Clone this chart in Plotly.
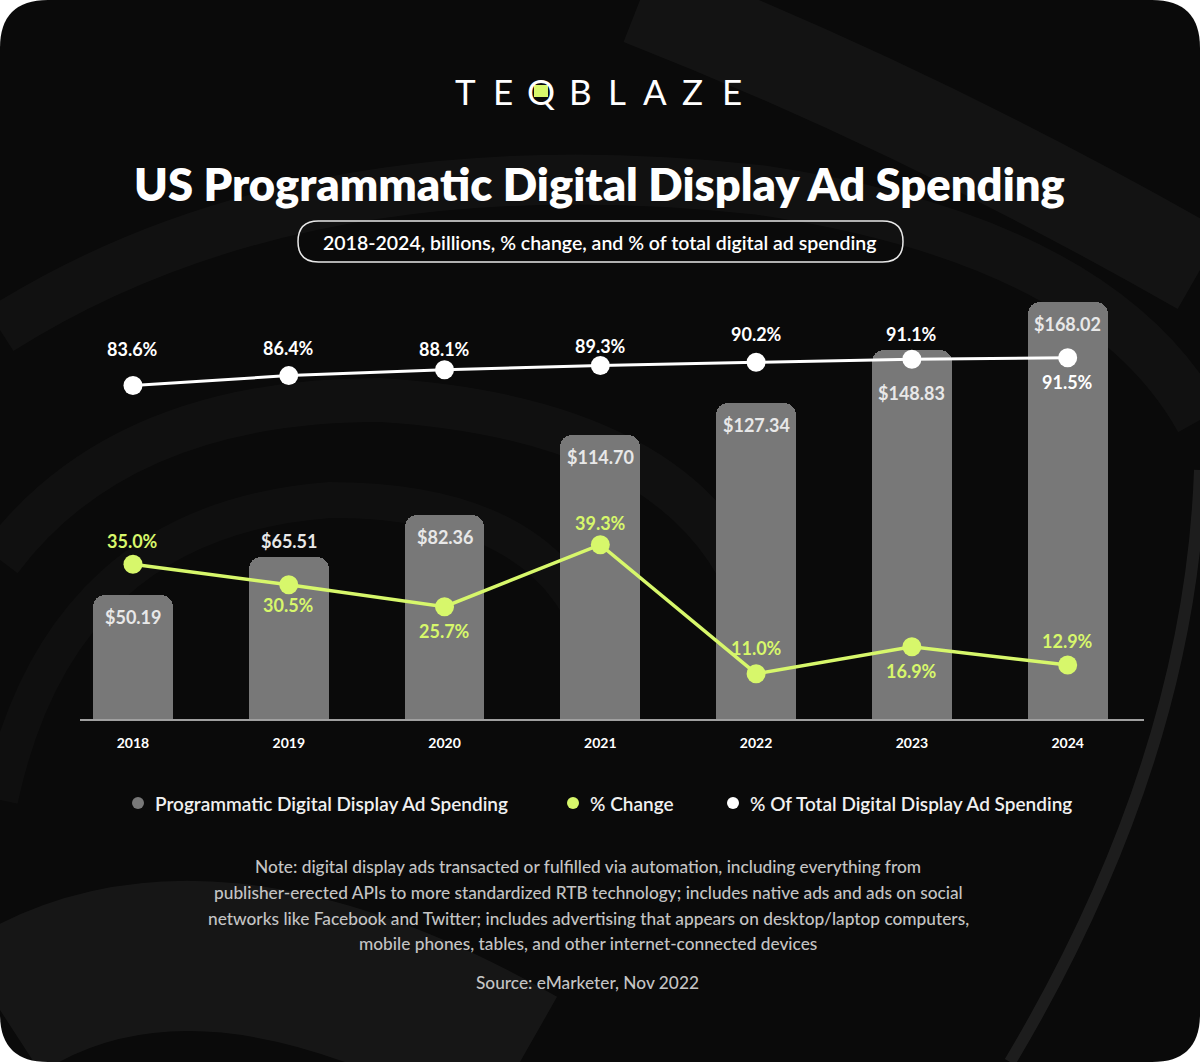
import plotly.graph_objects as go

# ---------------- data ----------------
years = ["2018", "2019", "2020", "2021", "2022", "2023", "2024"]
spending = [50.19, 65.51, 82.36, 114.70, 127.34, 148.83, 168.02]
pct_change = [35.0, 30.5, 25.7, 39.3, 11.0, 16.9, 12.9]
pct_total = [83.6, 86.4, 88.1, 89.3, 90.2, 91.1, 91.5]

spend_labels = ["$%.2f" % v for v in spending]
change_labels = ["%.1f%%" % v for v in pct_change]
total_labels = ["%.1f%%" % v for v in pct_total]

# label offsets (px, up positive) - style only
spend_off = [-22, 16, -22, -22, -22, -43, -22]
change_off = [23, -20, -24, 22, 26, -24, 24]
total_off = [36, 28, 21, 19, 28, 25, -24]

# ---------------- style ----------------
W, H = 1200, 1062
ML, MR, MT, MB = 80, 56, 290, 343
PW, PH = W - ML - MR, H - MT - MB
FONT = "Lato"
LIME = "#d7f76b"
BAR = "#787878"
BG = "#0a0a0a"


def px(x):
    return (x - ML) / PW


def py(y):
    return (H - MB - y) / PH


idx = list(range(len(years)))

fig = go.Figure()

fig.add_trace(go.Bar(
    x=idx, y=spending, width=0.513, yaxis="y",
    marker=dict(color=BAR, cornerradius=12, line=dict(width=0)),
    hoverinfo="skip", showlegend=False,
))
fig.add_trace(go.Scatter(
    x=idx, y=pct_total, yaxis="y2", mode="lines+markers",
    line=dict(color="white", width=3),
    marker=dict(color="white", size=19),
    hoverinfo="skip", showlegend=False,
))
fig.add_trace(go.Scatter(
    x=idx, y=pct_change, yaxis="y3", mode="lines+markers",
    line=dict(color=LIME, width=3.5),
    marker=dict(color=LIME, size=19),
    hoverinfo="skip", showlegend=False,
))

annotations = []


def ann(text, x, y, size, color, weight=400, xanchor="center", xref="paper", yref="paper", yshift=0):
    annotations.append(dict(
        text=text, x=x, y=y, xref=xref, yref=yref, showarrow=False,
        xanchor=xanchor, yanchor="middle", yshift=yshift,
        font=dict(family=FONT, size=size, color=color, weight=weight),
    ))


for i in idx:
    ann(spend_labels[i], i, spending[i], 18, "#e8e8e8", 700, xref="x", yref="y", yshift=spend_off[i])
    ann(change_labels[i], i, pct_change[i], 18, LIME, 700, xref="x", yref="y3", yshift=change_off[i])
    ann(total_labels[i], i, pct_total[i], 18, "white", 700, xref="x", yref="y2", yshift=total_off[i])

# title & subtitle
ann("US Programmatic Digital Display Ad Spending", px(599), py(184), 45.3, "white", 800)
ann("2018-2024, billions, % change, and % of total digital ad spending", px(600), py(242), 19.5, "white", 600)

# logo letters
logo = ["T", "E", "Q", "B", "L", "A", "Z", "E"]
logo_x = [465, 503, 541, 580, 617, 655, 692, 732]
for ch, lx in zip(logo, logo_x):
    ann(ch, px(lx), py(91), 35, "white", 400)

# legend (custom)
legend_items = ["Programmatic Digital Display Ad Spending", "% Change", "% Of Total Digital Display Ad Spending"]
legend_colors = [BAR, LIME, "white"]
legend_dot_x = [138, 573, 733]
for t, c, dx in zip(legend_items, legend_colors, legend_dot_x):
    ann(t, px(dx + 15), py(803), 19, "#f0f0f0", 600, xanchor="left")

# note & source
note = [
    "Note: digital display ads transacted or fulfilled via automation, including everything from",
    "publisher-erected APIs to more standardized RTB technology; includes native ads and ads on social",
    "networks like Facebook and Twitter; includes advertising that appears on desktop/laptop computers,",
    "mobile phones, tables, and other internet-connected devices",
]
note_y = [867, 892, 918, 943]
for t, ny in zip(note, note_y):
    ann(t, px(588), py(ny), 17.3, "#c4c4c4", 500)
ann("Source: eMarketer, Nov 2022", px(587), py(982), 17.3, "#c4c4c4", 500)

# ---------------- shapes ----------------
shapes = []


def rrect_path(x0, y0, x1, y1, r):
    rx = r / PW
    ry = r / PH
    X0, X1 = px(x0), px(x1)
    Y0, Y1 = py(y0), py(y1)
    return (f"M {X0+rx},{Y0} L {X1-rx},{Y0} Q {X1},{Y0} {X1},{Y0-ry} "
            f"L {X1},{Y1+ry} Q {X1},{Y1} {X1-rx},{Y1} L {X0+rx},{Y1} "
            f"Q {X0},{Y1} {X0},{Y1+ry} L {X0},{Y0-ry} Q {X0},{Y0} {X0+rx},{Y0} Z")


# rounded dark background
shapes.append(dict(type="path", xref="paper", yref="paper", path=rrect_path(0, 0, W, H, 48),
                   fillcolor=BG, line=dict(width=0), layer="below"))


def P(x, y):
    return f"{px(x)},{py(y)}"


swirls = [
    (f"M {P(640,0)} Q {P(920,110)} {P(1200,270)}", "rgba(255,255,255,0.04)", 90),
    (f"M {P(1200,470)} Q {P(1190,760)} {P(1010,1062)}", "rgba(255,255,255,0.08)", 12),
    (f"M {P(0,330)} Q {P(300,140)} {P(760,190)} Q {P(1100,240)} {P(1200,420)}", "rgba(255,255,255,0.03)", 50),
    (f"M {P(0,560)} Q {P(120,400)} {P(380,400)} Q {P(700,420)} {P(760,620)}", "rgba(255,255,255,0.028)", 44),
    (f"M {P(0,800)} Q {P(60,520)} {P(330,500)} Q {P(560,500)} {P(600,660)}", "rgba(255,255,255,0.025)", 36),
    (f"M {P(0,1010)} Q {P(200,880)} {P(520,1062)}", "rgba(255,255,255,0.05)", 150),
]
for p, c, w in swirls:
    shapes.append(dict(type="path", xref="paper", yref="paper", path=p,
                       line=dict(color=c, width=w), layer="below"))

# subtitle pill
shapes.append(dict(type="path", xref="paper", yref="paper", path=rrect_path(298, 221, 903, 262, 20.5),
                   line=dict(color="#e8e8e8", width=1.5), fillcolor="rgba(0,0,0,0)", layer="above"))

# lime square inside the logo Q
shapes.append(dict(type="rect", xref="paper", yref="paper",
                   x0=px(534), x1=px(548), y0=py(97), y1=py(85),
                   fillcolor=LIME, line=dict(width=0), layer="above"))

# legend dots
for c, dx in zip(legend_colors, legend_dot_x):
    shapes.append(dict(type="circle", xref="paper", yref="paper",
                       x0=px(dx - 6), x1=px(dx + 6), y0=py(809), y1=py(797),
                       fillcolor=c, line=dict(width=0), layer="above"))

fig.update_layout(
    width=W, height=H, autosize=False,
    margin=dict(l=ML, r=MR, t=MT, b=MB, pad=0),
    paper_bgcolor="white", plot_bgcolor="rgba(0,0,0,0)",
    showlegend=False, bargap=0,
    xaxis=dict(range=[-0.34, 6.49], showgrid=False, zeroline=False,
               tickmode="array", tickvals=idx, ticktext=years,
               showline=True, linecolor="#a0a0a0", linewidth=2,
               ticks="outside", ticklen=10, tickcolor="rgba(0,0,0,0)",
               tickfont=dict(family=FONT, size=14, color="white", weight=700),
               fixedrange=True),
    yaxis=dict(range=[0, 173], visible=False, fixedrange=True),
    yaxis2=dict(range=[-11.7, 110.86], overlaying="y", visible=False, fixedrange=True),
    yaxis3=dict(range=[1.07, 95.15], overlaying="y", visible=False, fixedrange=True),
    annotations=annotations,
    shapes=shapes,
)

fig.write_html("out.html", config={"displayModeBar": False},
               post_script="document.body.style.margin='0';document.body.style.overflow='hidden';")
